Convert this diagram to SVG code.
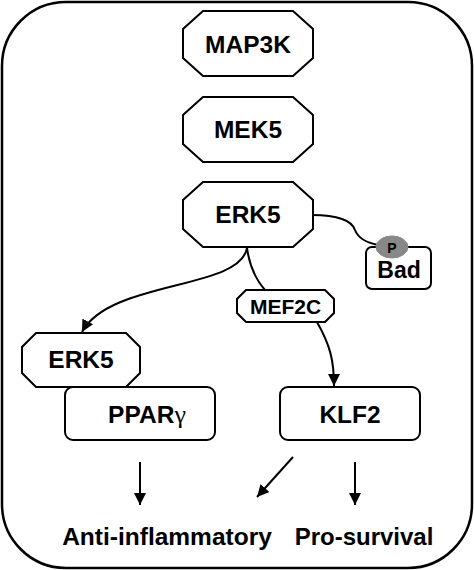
<svg xmlns="http://www.w3.org/2000/svg" width="474" height="570" viewBox="0 0 474 570">
<defs>
<style>
.box{fill:#fff;stroke:#000;stroke-width:2}
.t{font-family:"Liberation Sans",Arial,Helvetica,sans-serif;font-weight:bold;fill:#000;text-anchor:middle}
.c{fill:none;stroke:#000;stroke-width:2}
</style>
<marker id="ah" markerUnits="userSpaceOnUse" markerWidth="12" markerHeight="12" viewBox="0 0 12 12" refX="12" refY="6" orient="auto">
<path d="M0,0 L12,6 L0,12 Z" fill="#000"/>
</marker>
</defs>
<rect x="2" y="2" width="470" height="566" rx="64" ry="64" fill="#fff" stroke="#000" stroke-width="2.5"/>
<g id="connectors">
<path class="c" d="M312,215 C338,215 352,221 355,230 C358,238 368,243 378,245"/>
<path class="c" d="M247,248 C240,290 110,280 82,332" marker-end="url(#ah)"/>
<path class="c" d="M247,248 C250,270 258,282 265,290"/>
<path class="c" d="M317,322 C330,345 334,360 334,386" marker-end="url(#ah)"/>
<line class="c" x1="140" y1="462" x2="140" y2="505" marker-end="url(#ah)"/>
<line class="c" x1="293" y1="457" x2="257" y2="497" marker-end="url(#ah)"/>
<line class="c" x1="355" y1="462" x2="355" y2="505" marker-end="url(#ah)"/>
</g>
<g id="map3k">
<path class="box" d="M203,11 H293 L313,29 V58 L293,76 H203 L183,58 V29 Z"/>
<text class="t" x="248" y="53" font-size="24.5">MAP3K</text>
</g>
<g id="mek5">
<path class="box" d="M203,97 H293 L313,115 V144 L293,162 H203 L183,144 V115 Z"/>
<text class="t" x="248" y="138" font-size="24.5">MEK5</text>
</g>
<g id="erk5">
<path class="box" d="M203,182 H293 L313,200 V229 L293,247 H203 L183,229 V200 Z"/>
<text class="t" x="248" y="223" font-size="24.5">ERK5</text>
</g>
<g id="bad">
<rect class="box" x="366" y="247" width="65" height="42" rx="6" ry="6"/>
<text class="t" x="399" y="278" font-size="23">Bad</text>
<ellipse cx="392" cy="247" rx="16" ry="11" fill="#888" stroke="#888"/>
<text class="t" x="392" y="253" font-size="14">P</text>
</g>
<g id="mef2c">
<path class="box" d="M246,290 H325 L334,299 V313 L325,322 H246 L237,313 V299 Z"/>
<text class="t" x="285.5" y="313.5" font-size="21">MEF2C</text>
</g>
<g id="ppar">
<rect class="box" x="65" y="387" width="150" height="53" rx="8" ry="8"/>
<text class="t" x="147" y="423" font-size="24.5">PPAR<tspan font-family="'Liberation Serif','DejaVu Serif',serif" font-weight="normal" font-size="26">γ</tspan></text>
</g>
<g id="erk5-2">
<path class="box" d="M36,333 H126 L140,347 V373 L126,387 H36 L22,373 V347 Z"/>
<text class="t" x="81" y="368" font-size="24.5">ERK5</text>
</g>
<g id="klf2">
<rect class="box" x="280" y="387" width="140" height="53" rx="8" ry="8"/>
<text class="t" x="350" y="423" font-size="24.5">KLF2</text>
</g>
<g id="anti">
<text class="t" x="167" y="545" font-size="24.5">Anti-inflammatory</text>
</g>
<g id="pro">
<text class="t" x="364" y="545" font-size="24">Pro-survival</text>
</g>
</svg>
